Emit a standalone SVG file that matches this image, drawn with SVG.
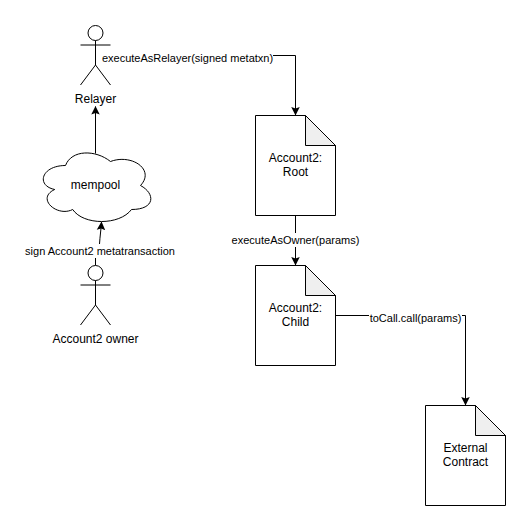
<svg xmlns="http://www.w3.org/2000/svg" width="531" height="531" viewBox="0 0 531 531">
<style>
text{font-family:"Liberation Sans",Arial,sans-serif;fill:#000;text-anchor:middle}
.n{font-size:12px}
.e{font-size:11px}
.s{fill:none;stroke:#000;stroke-width:1}
.b{fill:#fff;stroke:#000;stroke-width:1;stroke-linejoin:miter}
.f{fill:#efefef;stroke:#000;stroke-width:1}
</style>
<defs>
<marker id="a" markerUnits="userSpaceOnUse" markerWidth="11" markerHeight="11" refX="8" refY="4.5" orient="auto"><path d="M0 0.25L8.5 4.5L0 8.75L1.5 4.5Z" fill="#000"/></marker>
<g id="person"><circle cx="0" cy="0" r="7.5" class="b"/><path class="s" d="M0 7.5V32M-15 12H15M-15 52L0 32L15 52"/></g>
<g id="doc"><path class="b" d="M0 0H50L80 30V100H0Z"/><path class="f" d="M50 0V30H80Z"/></g>
</defs>
<rect width="531" height="531" fill="#fff"/>
<g id="connectors">
<path class="s" d="M110.5 55.5H295.5V115" marker-end="url(#a)"/>
<path class="s" d="M95.5 153.5V106.5" marker-end="url(#a)"/>
<path class="s" d="M95.5 265.5V258M99.5 244C100 236 101 230 101.5 222" marker-end="url(#a)"/>
<path class="s" d="M295.5 215.5V265" marker-end="url(#a)"/>
<path class="s" d="M335.5 315.5H465.5V405" marker-end="url(#a)"/>
<rect x="102" y="51" width="171" height="14" fill="#fff"/>
<rect x="25" y="246" width="151" height="12" fill="#fff"/>
<rect x="232" y="233" width="127" height="14" fill="#fff"/>
<rect x="369" y="312" width="93" height="14" fill="#fff"/>
<text class="e" x="187.5" y="62">executeAsRelayer(signed metatxn)</text>
<text class="e" x="100" y="255">sign Account2 metatransaction</text>
<text class="e" x="295.5" y="244">executeAsOwner(params)</text>
<text class="e" x="415.5" y="322">toCall.call(params)</text>
</g>
<g id="relayer"><use href="#person" x="95.5" y="33"/><text class="n" x="95.5" y="103">Relayer</text></g>
<g id="mempool"><path class="b" d="M65.5 165.5C41.5 165.5 35.5 185.5 54.7 189.5C35.5 198.3 57.1 217.5 72.7 209.5C83.5 225.5 119.5 225.5 131.5 209.5C155.5 209.5 155.5 193.5 140.5 185.5C155.5 169.5 131.5 153.5 110.5 161.5C95.5 149.5 71.5 149.5 65.5 165.5Z"/><text class="n" x="95.5" y="189">mempool</text></g>
<g id="owner"><use href="#person" x="95.5" y="273"/><text class="n" x="95.5" y="343">Account2 owner</text></g>
<g id="root"><use href="#doc" x="255.5" y="115.5"/><text class="n" x="295.5" y="162">Account2:</text><text class="n" x="295.5" y="176">Root</text></g>
<g id="child"><use href="#doc" x="255.5" y="265.5"/><text class="n" x="295.5" y="312">Account2:</text><text class="n" x="295.5" y="326">Child</text></g>
<g id="external"><use href="#doc" x="425.5" y="405.5"/><text class="n" x="465.5" y="452">External</text><text class="n" x="465.5" y="466">Contract</text></g>
</svg>
